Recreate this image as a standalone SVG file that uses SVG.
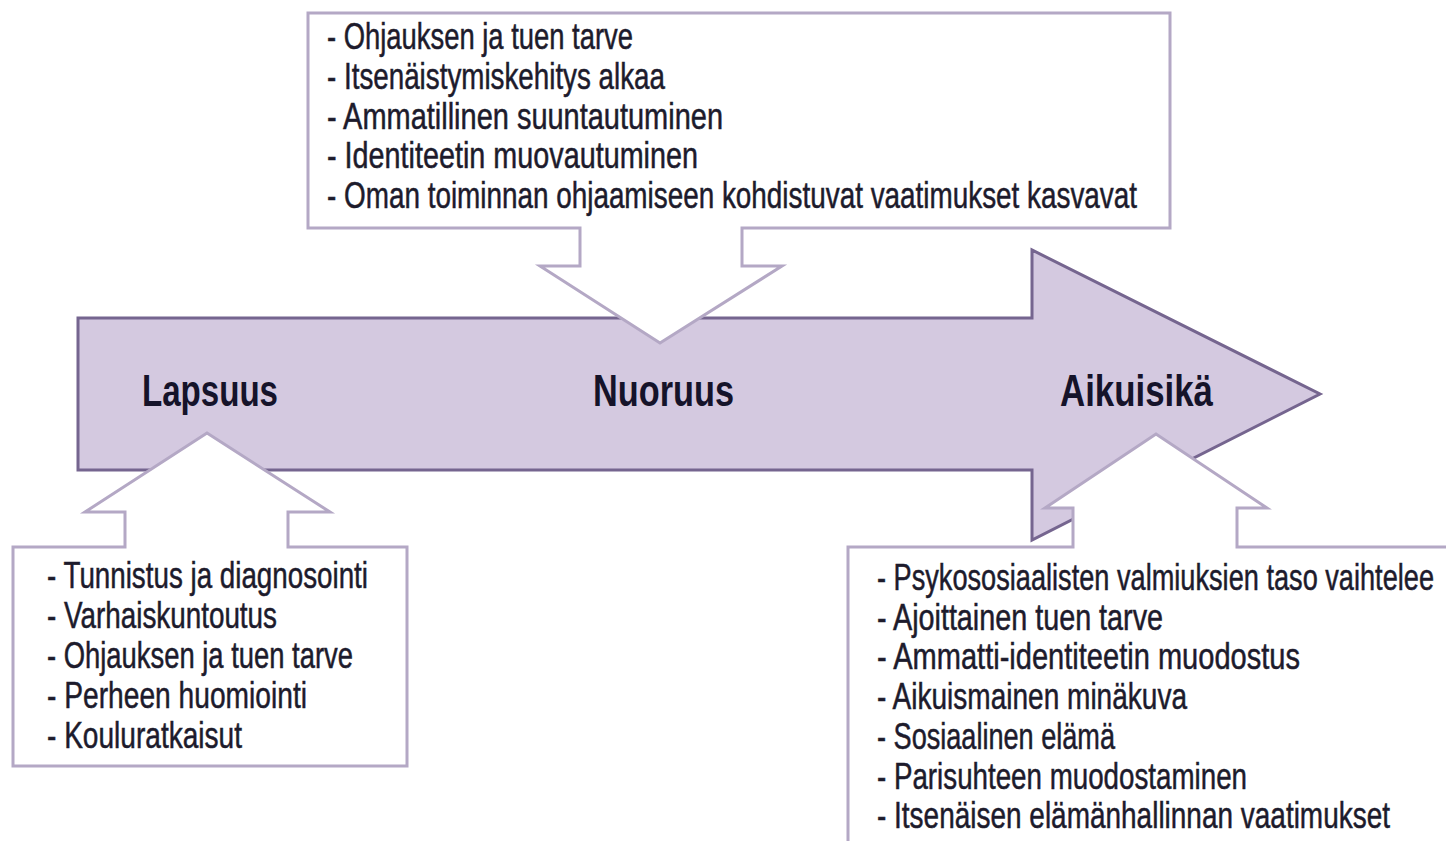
<svg xmlns="http://www.w3.org/2000/svg" width="1446" height="841" viewBox="0 0 1446 841">
<style>
.bg{fill:#ffffff}
.main{fill:#d4c9e0;stroke:#75658f;stroke-width:3;stroke-linejoin:miter}
.call{fill:#ffffff;stroke:#b4a8c5;stroke-width:3;stroke-linejoin:miter}
.item{font-family:"Liberation Sans",Arial,sans-serif;font-size:36px;fill:#1d1b2c;stroke:#1d1b2c;stroke-width:0.5}
.head{font-family:"Liberation Sans",Arial,sans-serif;font-size:44px;font-weight:bold;fill:#15132a}
</style>
<rect class="bg" x="0" y="0" width="1446" height="841"/>
<g id="timeline">
  <path class="main" d="M78,318 H1032 V250 L1320,394 L1032,540 V470 H78 Z"/>
  <text class="head" x="142" y="406" textLength="136" lengthAdjust="spacingAndGlyphs">Lapsuus</text>
  <text class="head" x="593" y="406" textLength="141" lengthAdjust="spacingAndGlyphs">Nuoruus</text>
  <text class="head" x="1060" y="406" textLength="153" lengthAdjust="spacingAndGlyphs">Aikuisikä</text>
</g>
<g id="connectors"></g>
<g id="nuoruus-box">
  <path class="call" d="M308,13 H1170 V228 H742 V266 H782 L660,343 L540,266 H580 V228 H308 Z"/>
  <text class="item" x="327" y="49" textLength="306" lengthAdjust="spacingAndGlyphs">- Ohjauksen ja tuen tarve</text>
  <text class="item" x="327" y="89" textLength="338" lengthAdjust="spacingAndGlyphs">- Itsenäistymiskehitys alkaa</text>
  <text class="item" x="327" y="129" textLength="396" lengthAdjust="spacingAndGlyphs">- Ammatillinen suuntautuminen</text>
  <text class="item" x="327" y="168" textLength="371" lengthAdjust="spacingAndGlyphs">- Identiteetin muovautuminen</text>
  <text class="item" x="327" y="208" textLength="810" lengthAdjust="spacingAndGlyphs">- Oman toiminnan ohjaamiseen kohdistuvat vaatimukset kasvavat</text>
</g>
<g id="lapsuus-box">
  <path class="call" d="M13,547 H125 V512 H85 L207,433 L330,512 H288 V547 H407 V766 H13 Z"/>
  <text class="item" x="47" y="588" textLength="321" lengthAdjust="spacingAndGlyphs">- Tunnistus ja diagnosointi</text>
  <text class="item" x="47" y="628" textLength="230" lengthAdjust="spacingAndGlyphs">- Varhaiskuntoutus</text>
  <text class="item" x="47" y="668" textLength="306" lengthAdjust="spacingAndGlyphs">- Ohjauksen ja tuen tarve</text>
  <text class="item" x="47" y="708" textLength="260" lengthAdjust="spacingAndGlyphs">- Perheen huomiointi</text>
  <text class="item" x="47" y="748" textLength="195" lengthAdjust="spacingAndGlyphs">- Kouluratkaisut</text>
</g>
<g id="aikuisika-box">
  <path class="call" d="M848,547 H1073 V508 H1045 L1156,434 L1267,508 H1237 V547 H1452 V862 H848 Z"/>
  <text class="item" x="877" y="590" textLength="557" lengthAdjust="spacingAndGlyphs">- Psykososiaalisten valmiuksien taso vaihtelee</text>
  <text class="item" x="877" y="630" textLength="286" lengthAdjust="spacingAndGlyphs">- Ajoittainen tuen tarve</text>
  <text class="item" x="877" y="669" textLength="423" lengthAdjust="spacingAndGlyphs">- Ammatti-identiteetin muodostus</text>
  <text class="item" x="877" y="709" textLength="310" lengthAdjust="spacingAndGlyphs">- Aikuismainen minäkuva</text>
  <text class="item" x="877" y="749" textLength="238" lengthAdjust="spacingAndGlyphs">- Sosiaalinen elämä</text>
  <text class="item" x="877" y="789" textLength="370" lengthAdjust="spacingAndGlyphs">- Parisuhteen muodostaminen</text>
  <text class="item" x="877" y="828" textLength="513" lengthAdjust="spacingAndGlyphs">- Itsenäisen elämänhallinnan vaatimukset</text>
</g>
</svg>
